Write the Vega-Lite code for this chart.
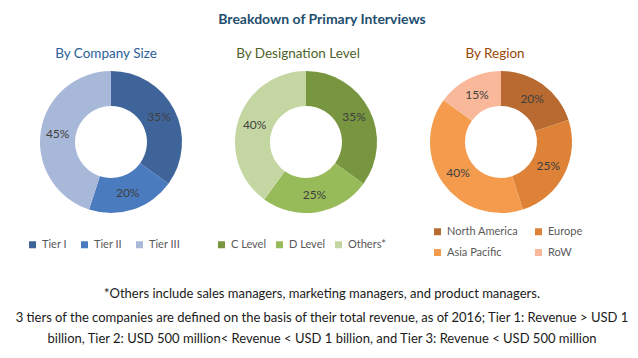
{
  "$schema": "https://vega.github.io/schema/vega-lite/v6.json",
  "padding": {"left": 14, "top": 12, "right": 0, "bottom": 0},
  "background": "white",
  "title": {"text": "Breakdown of Primary Interviews", "font": "Lato", "fontSize": 14, "fontWeight": "bold", "color": "#1f4e6e", "anchor": "middle", "offset": 20},
  "config": {"view": {"stroke": null}},
  "spacing": 24,
  "vconcat": [
    {
      "bounds": "flush",
      "spacing": 45,
      "resolve": {"scale": {"color": "independent"}, "legend": {"color": "independent"}},
      "hconcat": [
        {
          "width": 150, "height": 150,
          "title": {"text": "By Company Size", "font": "Lato", "fontSize": 13.5, "fontWeight": "normal", "color": "#2a6099", "offset": 7, "dx": -5},
          "data": {"values": [
            {"label": "Tier I", "pct": 35, "txt": "35%", "k": 1},
            {"label": "Tier II", "pct": 20, "txt": "20%", "k": 2},
            {"label": "Tier III", "pct": 45, "txt": "45%", "k": 3}
          ]},
          "encoding": {
            "theta": {"field": "pct", "type": "quantitative", "stack": true},
            "order": {"field": "k"},
            "color": {"field": "label", "type": "nominal",
              "scale": {"domain": ["Tier I", "Tier II", "Tier III"], "range": ["#3e649a", "#4a7bbf", "#a8b8d8"]},
              "legend": {"title": null, "orient": "none", "direction": "horizontal", "legendX": -9, "legendY": 172, "symbolType": "square", "symbolSize": 49, "symbolStrokeWidth": 0, "labelFont": "Lato", "labelFontSize": 11, "labelColor": "#595959", "columnPadding": 12, "labelOffset": 4}}
          },
          "layer": [
            {"mark": {"type": "arc", "innerRadius": 36, "outerRadius": 71}},
            {"mark": {"type": "text", "radius": 54, "font": "Lato", "fontSize": 12, "color": "#404040"}, "encoding": {"text": {"field": "txt", "type": "nominal"}, "color": {"value": "#404040"}}}
          ]
        },
        {
          "width": 150, "height": 150,
          "title": {"text": "By Designation Level", "font": "Lato", "fontSize": 13.5, "fontWeight": "normal", "color": "#4f6228", "offset": 7, "dx": -8},
          "data": {"values": [
            {"label": "C Level", "pct": 35, "txt": "35%", "k": 1},
            {"label": "D Level", "pct": 25, "txt": "25%", "k": 2},
            {"label": "Others*", "pct": 40, "txt": "40%", "k": 3}
          ]},
          "encoding": {
            "theta": {"field": "pct", "type": "quantitative", "stack": true},
            "order": {"field": "k"},
            "color": {"field": "label", "type": "nominal",
              "scale": {"domain": ["C Level", "D Level", "Others*"], "range": ["#77963f", "#98bb59", "#c4d7a2"]},
              "legend": {"title": null, "orient": "none", "direction": "horizontal", "legendX": -15, "legendY": 172, "symbolType": "square", "symbolSize": 49, "symbolStrokeWidth": 0, "labelFont": "Lato", "labelFontSize": 11, "labelColor": "#595959", "columnPadding": 7, "labelOffset": 4}}
          },
          "layer": [
            {"mark": {"type": "arc", "innerRadius": 36, "outerRadius": 71}},
            {"mark": {"type": "text", "radius": 54, "font": "Lato", "fontSize": 12, "color": "#404040"}, "encoding": {"text": {"field": "txt", "type": "nominal"}, "color": {"value": "#404040"}}}
          ]
        },
        {
          "width": 150, "height": 150,
          "title": {"text": "By Region", "font": "Lato", "fontSize": 13.5, "fontWeight": "normal", "color": "#974806", "offset": 7, "dx": -6},
          "data": {"values": [
            {"label": "North America", "pct": 20, "txt": "20%", "k": 1},
            {"label": "Europe", "pct": 25, "txt": "25%", "k": 2},
            {"label": "Asia Pacific", "pct": 40, "txt": "40%", "k": 3},
            {"label": "RoW", "pct": 15, "txt": "15%", "k": 4}
          ]},
          "encoding": {
            "theta": {"field": "pct", "type": "quantitative", "stack": true},
            "order": {"field": "k"},
            "color": {"field": "label", "type": "nominal",
              "scale": {"domain": ["North America", "Europe", "Asia Pacific", "RoW"], "range": ["#b86a30", "#dd8237", "#f59b4e", "#f9b899"]},
              "legend": {"title": null, "orient": "none", "direction": "horizontal", "columns": 2, "legendX": 6, "legendY": 159, "symbolType": "square", "symbolSize": 49, "symbolStrokeWidth": 0, "labelFont": "Lato", "labelFontSize": 11, "labelColor": "#595959", "columnPadding": 14, "rowPadding": 9, "labelOffset": 4}}
          },
          "layer": [
            {"mark": {"type": "arc", "innerRadius": 36, "outerRadius": 71}},
            {"mark": {"type": "text", "radius": 53, "font": "Lato", "fontSize": 12, "color": "#404040"}, "encoding": {"text": {"field": "txt", "type": "nominal"}, "color": {"value": "#404040"}}}
          ]
        }
      ]
    },
    {
      "width": 572, "height": 48,
      "data": {"values": [
        {"para": "a", "note": "*Others include sales managers, marketing managers, and product managers."},
        {"para": "b", "note": "3 tiers of the companies are defined on the basis of their total revenue, as of 2016; Tier 1: Revenue > USD 1\nbillion, Tier 2: USD 500 million< Revenue < USD 1 billion, and Tier 3: Revenue < USD 500 million"}
      ]},
      "mark": {"type": "text", "font": "Lato", "fontSize": 13, "color": "#1a1a1a", "lineBreak": "\n", "lineHeight": 21, "align": "center", "baseline": "middle"},
      "encoding": {
        "y": {"field": "para", "type": "ordinal", "axis": null, "scale": {"paddingInner": 0, "paddingOuter": 0}},
        "text": {"field": "note", "type": "nominal"}
      }
    }
  ]
}
